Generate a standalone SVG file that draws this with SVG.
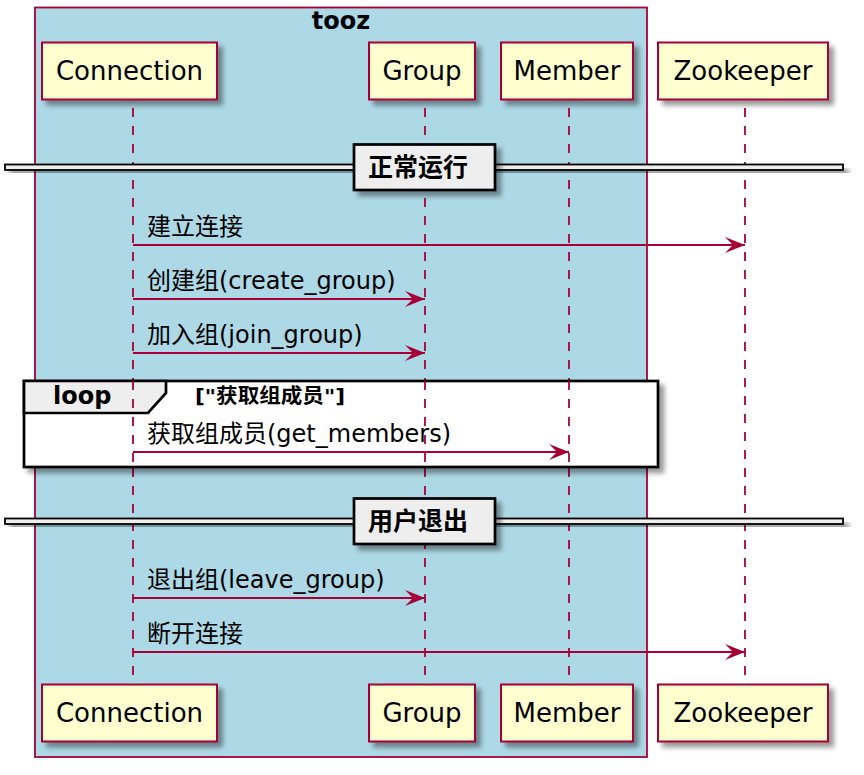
<svg xmlns="http://www.w3.org/2000/svg" width="864" height="775" viewBox="0 0 864 775">
<defs>
<filter id="sh" x="-20%" y="-20%" width="150%" height="160%">
<feGaussianBlur in="SourceAlpha" stdDeviation="2.5"/>
<feOffset dx="5" dy="5" result="b"/>
<feComponentTransfer><feFuncA type="linear" slope="0.4"/></feComponentTransfer>
<feMerge><feMergeNode/><feMergeNode in="SourceGraphic"/></feMerge>
</filter>
<marker id="ah" markerUnits="userSpaceOnUse" markerWidth="22" markerHeight="18" refX="20" refY="8" orient="auto">
<polygon points="0,0 20,8 0,16 8,8" fill="#A80036"/>
</marker>
</defs>
<style>
.part rect{fill:#FEFECE;stroke:#A80036;stroke-width:2;}
.part text{font-family:"DejaVu Sans","Noto Sans CJK SC",sans-serif;font-size:26px;fill:#000;text-anchor:middle;}
.life{stroke:#A80036;stroke-width:1.8;stroke-dasharray:9,9;fill:none;}
.msg{stroke:#A80036;stroke-width:1.8;fill:none;marker-end:url(#ah);}
.lbl{font-family:"DejaVu Sans","Noto Sans CJK SC",sans-serif;font-size:24px;fill:#000;}
.bold{font-family:"DejaVu Sans","Noto Sans CJK SC",sans-serif;font-weight:bold;fill:#000;}
.div rect{fill:#EEEEEE;stroke:#000;}
</style>
<rect width="864" height="775" fill="#FFFFFF"/>

<g id="box-tooz">
<rect x="35" y="7.5" width="612" height="749.5" fill="#ADD8E6" stroke="#A80036" stroke-width="1.8"/>
<text class="bold" x="341" y="29" font-size="24" text-anchor="middle">tooz</text>
</g>

<g id="lifelines">
<line class="life" x1="133" y1="108" x2="133" y2="684"/>
<line class="life" x1="425" y1="108" x2="425" y2="684"/>
<line class="life" x1="569" y1="108" x2="569" y2="684"/>
<line class="life" x1="745" y1="108" x2="745" y2="684"/>
</g>

<g id="loop-frame">
<rect x="24" y="381" width="634" height="86" fill="#FFFFFF" stroke="#000" stroke-width="2.7" filter="url(#sh)"/>
<polygon points="24,381 166,381 166,393 148,413 24,413" fill="#EEEEEE" stroke="#000" stroke-width="2.7"/>
<text class="bold" x="53" y="404" font-size="24">loop</text>
<text class="bold" x="195" y="403" font-size="20" textLength="150" lengthAdjust="spacingAndGlyphs">["获取组成员"]</text>
</g>

<g id="lifelines-over">
<line class="life" x1="133" y1="381" x2="133" y2="467"/>
<line class="life" x1="425" y1="381" x2="425" y2="467"/>
<line class="life" x1="569" y1="381" x2="569" y2="467"/>
</g>

<g id="divider-1" class="div">
<rect x="5" y="164.5" width="838" height="5.5" stroke-width="1.8" filter="url(#sh)"/>
<rect x="354" y="144.5" width="141" height="45.5" stroke-width="2.7" filter="url(#sh)"/>
<text class="bold" x="418" y="176" font-size="25" text-anchor="middle">正常运行</text>
</g>

<g id="divider-2" class="div">
<rect x="5" y="518.5" width="838" height="5.5" stroke-width="1.8" filter="url(#sh)"/>
<rect x="354" y="498.5" width="141" height="45.5" stroke-width="2.7" filter="url(#sh)"/>
<text class="bold" x="418" y="530" font-size="25" text-anchor="middle">用户退出</text>
</g>

<g id="connectors">
<line class="msg" x1="133" y1="245" x2="745" y2="245"/>
<text class="lbl" x="147" y="235">建立连接</text>
<line class="msg" x1="133" y1="299" x2="425" y2="299"/>
<text class="lbl" x="147" y="289">创建组(create_group)</text>
<line class="msg" x1="133" y1="353" x2="425" y2="353"/>
<text class="lbl" x="147" y="343">加入组(join_group)</text>
<line class="msg" x1="133" y1="452" x2="569" y2="452"/>
<text class="lbl" x="147" y="442">获取组成员(get_members)</text>
<line class="msg" x1="133" y1="598" x2="425" y2="598"/>
<text class="lbl" x="147" y="588">退出组(leave_group)</text>
<line class="msg" x1="133" y1="652" x2="745" y2="652"/>
<text class="lbl" x="147" y="642">断开连接</text>
</g>

<g id="p-connection-top" class="part"><rect x="42" y="42.5" width="175" height="57" filter="url(#sh)"/><text x="129.5" y="80">Connection</text></g>
<g id="p-group-top" class="part"><rect x="369" y="42.5" width="106" height="57" filter="url(#sh)"/><text x="422" y="80">Group</text></g>
<g id="p-member-top" class="part"><rect x="501" y="42.5" width="132" height="57" filter="url(#sh)"/><text x="567" y="80">Member</text></g>
<g id="p-zookeeper-top" class="part"><rect x="658" y="42.5" width="170" height="57" filter="url(#sh)"/><text x="743" y="80">Zookeeper</text></g>

<g id="p-connection-bottom" class="part"><rect x="42" y="684.5" width="175" height="57" filter="url(#sh)"/><text x="129.5" y="722">Connection</text></g>
<g id="p-group-bottom" class="part"><rect x="369" y="684.5" width="106" height="57" filter="url(#sh)"/><text x="422" y="722">Group</text></g>
<g id="p-member-bottom" class="part"><rect x="501" y="684.5" width="132" height="57" filter="url(#sh)"/><text x="567" y="722">Member</text></g>
<g id="p-zookeeper-bottom" class="part"><rect x="658" y="684.5" width="170" height="57" filter="url(#sh)"/><text x="743" y="722">Zookeeper</text></g>
</svg>
